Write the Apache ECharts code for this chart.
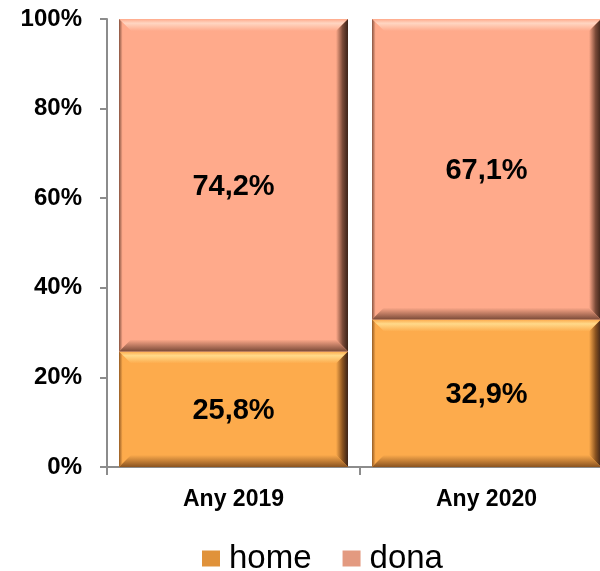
<!DOCTYPE html>
<html>
<head>
<meta charset="utf-8">
<script src="https://cdn.jsdelivr.net/npm/echarts@6/dist/echarts.min.js"></script>
<style>
  html, body { margin: 0; padding: 0; background: #fff; }
  #chart { width: 600px; height: 571px; }
</style>
</head>
<body>
<div id="chart"></div>
<script>
// Share of people by sex, per year (percent)
const categories = ['Any 2019', 'Any 2020'];
const homeValues = [25.8, 32.9];
const donaValues = [74.2, 67.1];
const yTicks = [0, 20, 40, 60, 80, 100];

const FONT = '"Liberation Sans", Arial, sans-serif';

const fmt = v => v.toFixed(1).replace('.', ',') + '%';

// Bevelled bar drawn between [start, end] on the value axis
function bevelRenderer(base, light, dark) {
  return function (params, api) {
    const cat = api.value(0);
    const p0 = api.coord([cat, api.value(1)]);
    const p1 = api.coord([cat, api.value(2)]);
    const bw = api.size([1, 0])[0] * 0.905;
    const l = p0[0] - bw / 2, r = l + bw;
    const t = p1[1], b = p0[1];
    const e = 12;
    const label = fmt(api.value(2) - api.value(1));
    return {
      type: 'group',
      children: [
        { type: 'rect', shape: { x: l, y: t, width: bw, height: b - t }, style: { fill: base } },
        { type: 'polygon', shape: { points: [[l, t], [r, t], [r - e, t + e], [l + e, t + e]] },
          style: { fill: new echarts.graphic.LinearGradient(0, 0, 0, 1, [
            { offset: 0, color: base }, { offset: 0.35, color: light }, { offset: 1, color: base }]) } },
        { type: 'polygon', shape: { points: [[l, t], [l + e, t + e], [l + e, b - e], [l, b]] },
          style: { fill: new echarts.graphic.LinearGradient(0, 0, 1, 0, [
            { offset: 0, color: dark }, { offset: 0.3, color: base }, { offset: 1, color: base }]), opacity: 0.9 } },
        { type: 'polygon', shape: { points: [[r, t], [r, b], [r - e, b - e], [r - e, t + e]] },
          style: { fill: new echarts.graphic.LinearGradient(0, 0, 1, 0, [
            { offset: 0, color: base }, { offset: 0.55, color: dark }, { offset: 1, color: '#3a2218' }]) } },
        { type: 'polygon', shape: { points: [[l, b], [r, b], [r - e, b - e], [l + e, b - e]] },
          style: { fill: new echarts.graphic.LinearGradient(0, 0, 0, 1, [
            { offset: 0, color: base }, { offset: 1, color: dark }]) } },
        { type: 'text', style: { text: label, x: (l + r) / 2, y: (t + b) / 2 + 2,
            align: 'center', verticalAlign: 'middle', fill: '#000',
            font: 'bold 29px ' + FONT } }
      ]
    };
  };
}

const homeData = categories.map((c, i) => [i, 0, homeValues[i]]);
const donaData = categories.map((c, i) => [i, homeValues[i], homeValues[i] + donaValues[i]]);

const chart = echarts.init(document.getElementById('chart'), null, { renderer: 'canvas' });
chart.setOption({
  animation: false,
  backgroundColor: '#fff',
  grid: { left: 107, width: 506, top: 19, height: 448, outerBoundsMode: 'none', containLabel: false },
  legend: {
    left: 197, top: 537, itemWidth: 18, itemHeight: 16, itemGap: 31,
    icon: 'rect',
    textStyle: { fontFamily: FONT, fontSize: 33, color: '#000', padding: [0, 0, 0, 4] },
    data: ['home', 'dona']
  },
  xAxis: {
    type: 'category', data: categories,
    axisLine: { show: true, lineStyle: { color: '#8c8c8c', width: 2 } },
    axisTick: { show: true, length: 8, lineStyle: { color: '#8c8c8c', width: 2 } },
    axisLabel: { margin: 21, fontFamily: FONT, fontSize: 23, fontWeight: 'bold', color: '#000' }
  },
  yAxis: {
    type: 'value', min: 0, max: 100, interval: 20,
    axisLine: { show: true, lineStyle: { color: '#8c8c8c', width: 2 } },
    axisTick: { show: true, length: 7, lineStyle: { color: '#8c8c8c', width: 2 } },
    splitLine: { show: false },
    axisLabel: { margin: 25, fontFamily: FONT, fontSize: 24, fontWeight: 'bold', color: '#000',
      formatter: v => (yTicks.includes(v) ? v + '%' : '') }
  },
  series: [
    { name: 'home', type: 'custom', itemStyle: { color: '#E0923A' },
      encode: { x: 0, y: [1, 2] },
      renderItem: bevelRenderer('#FDAB4C', '#FFD98A', '#8A5320'), data: homeData },
    { name: 'dona', type: 'custom', itemStyle: { color: '#E39A80' },
      encode: { x: 0, y: [1, 2] },
      renderItem: bevelRenderer('#FFAA8B', '#FFD6C2', '#7A4A38'), data: donaData }
  ]
});
</script>
</body>
</html>
